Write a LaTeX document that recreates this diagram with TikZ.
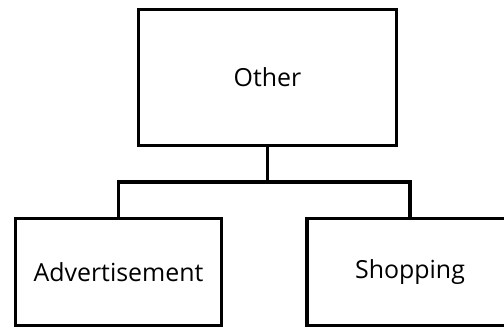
\documentclass[tikz,border=0pt]{standalone}
\usepackage{fontspec}
\setmainfont{Open Sans}
\usepackage{tikz}

\begin{document}
\begin{tikzpicture}[x=1bp, y=-1bp, line width=3.6bp,
    box/.style={draw, rectangle, inner sep=0pt, outer sep=0pt, font=\fontsize{25}{30}\selectfont}]
    \useasboundingbox (0,0) rectangle (504,331);
    \clip (0,0) rectangle (504,331);
    \node[box, minimum width=258bp, minimum height=136bp] (other) at (267.5,77.5) {Other};
    \node[box, minimum width=206bp, minimum height=107bp] (adv) at (118.5,272) {Advertisement};
    \node[box, minimum width=206bp, minimum height=107bp] (shop) at (410,272) {Shopping};
    \coordinate (jn) at (267.5,182);
    \draw (other.south) -- (jn);
    \draw (jn) -| (adv.north);
    \draw (jn) -| (shop.north);
\end{tikzpicture}
\end{document}
